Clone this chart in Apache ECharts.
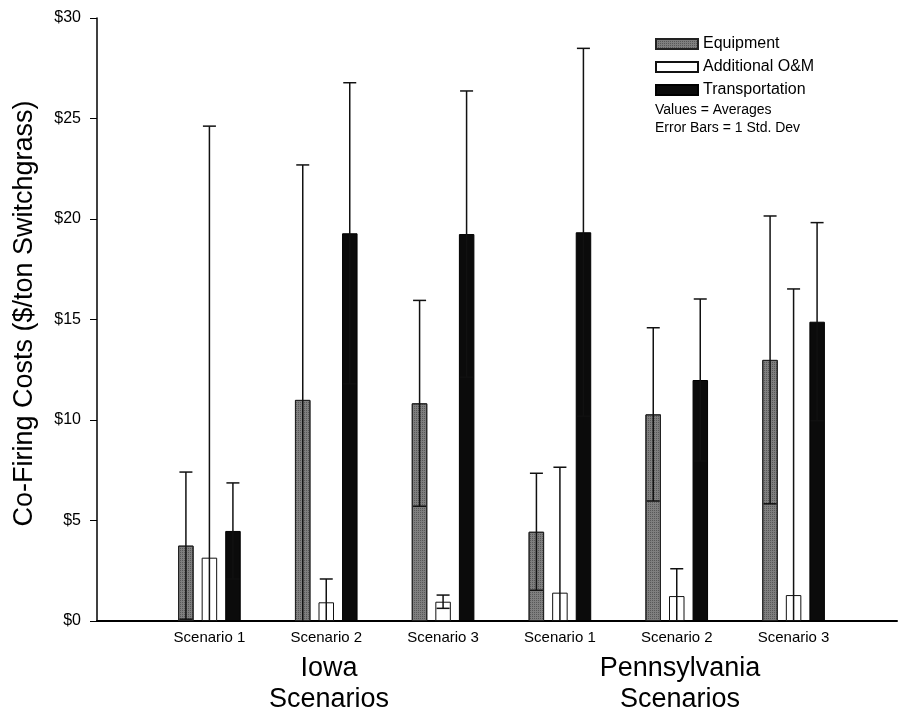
<!DOCTYPE html>
<html>
<head>
<meta charset="utf-8">
<script src="https://cdn.jsdelivr.net/npm/echarts@6/dist/echarts.min.js"></script>
<style>html,body{margin:0;padding:0;background:#fff}#c{width:899px;height:717px}</style>
</head>
<body>
<div id="c"></div>
<script>
const categories = ['Scenario 1','Scenario 2','Scenario 3','Scenario 1','Scenario 2','Scenario 3'];
const equipment   = [3.75, 11.0, 10.83, 4.44, 10.28, 12.99];
const equipmentSD = [3.66, 11.69, 5.12, 2.91, 4.31, 7.16];
const addOM       = [3.15, 0.93, 0.96, 1.41, 1.24, 1.29];
const addOMSD     = [21.47, 1.16, 0.33, 6.24, 1.36, 15.23];
const transport   = [4.48, 19.29, 19.25, 19.34, 11.99, 14.89];
const transportSD = [2.39, 7.49, 7.12, 9.15, 4.03, 4.93];
const yTicks = [0, 5, 10, 15, 20, 25, 30];
const groupLabels = ['Iowa\nScenarios', 'Pennsylvania\nScenarios'];
const seriesNames = ['Equipment', 'Additional O&M', 'Transportation'];
const noteLines = ['Values = Averages', 'Error Bars = 1 Std. Dev'];

const FONT = 'Liberation Sans, Arial, sans-serif';
const BAR_W = 15.5, STEP = 23.5, CAP = 6.5;

function errSeries(vals, sds, offset) {
  return {
    type: 'custom', xAxisIndex: 1, yAxisIndex: 1, z: 10, silent: true,
    encode: { x: 0, y: 1 },
    data: vals.map((v, i) => [i, v, sds[i]]),
    renderItem: function (params, api) {
      const i = api.value(0), v = api.value(1), sd = api.value(2);
      const top = api.coord([i, v + sd]);
      const lowV = Math.max(0, v - sd);
      const low = api.coord([i, lowV]);
      const x = top[0] + offset;
      const st = { stroke: '#111', lineWidth: 1.5 };
      const ch = [
        { type: 'line', shape: { x1: x, y1: low[1], x2: x, y2: top[1] }, style: st },
        { type: 'line', shape: { x1: x - CAP, y1: top[1], x2: x + CAP, y2: top[1] }, style: st }
      ];
      if (v - sd > 0) ch.push({ type: 'line', shape: { x1: x - CAP, y1: low[1], x2: x + CAP, y2: low[1] }, style: st });
      return { type: 'group', children: ch };
    }
  };
}

const chart = echarts.init(document.getElementById('c'), null, { renderer: 'canvas' });
chart.setOption({
  animation: false,
  backgroundColor: '#fff',
  textStyle: { fontFamily: FONT, color: '#000' },
  grid: [
    { left: 97, right: 2, top: 18, bottom: 96 },
    { left: 151, right: 47, top: 18, bottom: 96 }
  ],
  xAxis: [
    { gridIndex: 0, type: 'value', min: 0, max: 1,
      axisLine: { show: true, lineStyle: { color: '#000', width: 2 } },
      axisTick: { show: false }, axisLabel: { show: false }, splitLine: { show: false } },
    { gridIndex: 1, type: 'category', data: categories,
      axisLine: { show: false }, axisTick: { show: false },
      axisLabel: { color: '#000', fontSize: 15, fontFamily: FONT, margin: 9 } }
  ],
  yAxis: [
    { gridIndex: 0, type: 'value', min: yTicks[0], max: yTicks[yTicks.length - 1], interval: 5,
      name: 'Co-Firing Costs ($/ton Switchgrass)', nameLocation: 'middle', nameGap: 59, nameRotate: 90,
      nameTextStyle: { fontSize: 27, color: '#000', fontFamily: FONT, padding: [0, 0, 0, 12] },
      axisLine: { show: true, lineStyle: { color: '#000', width: 1.5 } },
      axisTick: { show: true, length: 7, lineStyle: { color: '#000' } },
      axisLabel: { color: '#000', fontSize: 16, fontFamily: FONT, margin: 16, formatter: v => '$' + v },
      splitLine: { show: false } },
    { gridIndex: 1, type: 'value', min: 0, max: 30, show: false, splitLine: { show: false } }
  ],
  legend: {
    data: seriesNames, orient: 'vertical', left: 650, top: 31,
    itemWidth: 42, itemHeight: 10, itemGap: 7,
    textStyle: { fontSize: 16, color: '#000', fontFamily: FONT, lineHeight: 16 },
    icon: 'rect', selectedMode: false
  },
  graphic: [
    { type: 'text', left: 655, top: 101, style: { text: noteLines.join('\n'), fontSize: 14, lineHeight: 18, fill: '#000', fontFamily: FONT } },
    { type: 'text', x: 329, y: 653, style: { text: groupLabels[0], fontSize: 27, lineHeight: 31, fill: '#000', align: 'center', verticalAlign: 'top', fontFamily: FONT } },
    { type: 'text', x: 680, y: 653, style: { text: groupLabels[1], fontSize: 27, lineHeight: 31, fill: '#000', align: 'center', verticalAlign: 'top', fontFamily: FONT } }
  ],
  series: [
    { name: seriesNames[0], type: 'bar', xAxisIndex: 1, yAxisIndex: 1, data: equipment,
      barWidth: BAR_W, barGap: '52%',
      itemStyle: { color: '#7f7f7f', borderColor: '#222', borderWidth: 1,
        decal: { symbol: 'rect', symbolSize: 1, color: 'rgba(30,30,30,0.4)', dashArrayX: [1, 1], dashArrayY: [1, 1], rotation: 0 } } },
    { name: seriesNames[1], type: 'bar', xAxisIndex: 1, yAxisIndex: 1, data: addOM,
      barWidth: BAR_W, barGap: '52%',
      itemStyle: { color: '#fff', borderColor: '#111', borderWidth: 1 } },
    { name: seriesNames[2], type: 'bar', xAxisIndex: 1, yAxisIndex: 1, data: transport,
      barWidth: BAR_W, barGap: '52%',
      itemStyle: { color: '#0b0b0b', borderColor: '#000', borderWidth: 1 } },
    errSeries(equipment, equipmentSD, -STEP),
    errSeries(addOM, addOMSD, 0),
    errSeries(transport, transportSD, STEP)
  ]
});
</script>
</body>
</html>
